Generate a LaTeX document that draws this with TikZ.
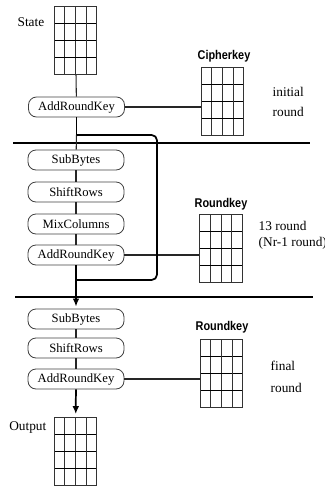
\documentclass[tikz,border=0pt]{standalone}
\usepackage{fontspec}
\setmainfont{Liberation Serif}
\newfontfamily\keyfont{Liberation Sans}
\usetikzlibrary{calc,arrows.meta}

\newcommand{\keytext}[1]{\scalebox{0.86}[1]{#1}}

\tikzset{
  stepbox/.style={draw=black!75, line width=0.6pt, rounded corners=6pt,
    minimum width=72pt, minimum height=15pt, inner sep=0pt,
    font=\fontsize{9.5}{11}\selectfont},
  keygrid/.style={draw=black!80, line width=0.6pt, minimum width=32pt,
    minimum height=51.5pt, inner sep=0pt,
    path picture={
      \foreach \k in {1,2,3}{
        \draw[black!80, line width=0.6pt]
          ($(path picture bounding box.north west)!\k/4!(path picture bounding box.north east)$) --
          ($(path picture bounding box.south west)!\k/4!(path picture bounding box.south east)$);
        \draw[black, line width=0.6pt]
          ($(path picture bounding box.north west)!\k/4!(path picture bounding box.south west)$) --
          ($(path picture bounding box.north east)!\k/4!(path picture bounding box.south east)$);
      }}},
  keylabel/.style={font=\keyfont\bfseries\fontsize{9.5}{10}\selectfont},
  sidelabel/.style={align=left, anchor=west, font=\fontsize{10}{15}\selectfont},
  link/.style={black!85, line width=0.8pt},
  flow/.style={black, line width=1.3pt},
  divider/.style={black, line width=0.8pt},
}

\begin{document}
\begin{tikzpicture}[x=0.75pt, y=-0.75pt]
    \useasboundingbox (0,0) rectangle (325,486);

    % initial round
    \node[keygrid] (state) at (75.5,40.5) {};
    \node[anchor=east] (statelbl) at (49,22) {State};
    \node[stepbox] (ark0) at (76.5,107) {AddRoundKey};
    \node[keygrid] (cipher) at (222.5,101.5) {};
    \node[keylabel] (cipherlbl) at (224,56) {\keytext{Cipherkey}};
    \node[sidelabel] (initlbl) at (268,102) {initial\\round};
    \draw[link] (state) -- (ark0);
    \draw[link] (ark0.east) -- (ark0.east -| cipher.west);

    \coordinate (d1w) at (13,143);
    \coordinate (d1e) at (310,143);
    \draw[divider] (d1w) -- (d1e);

    % main rounds
    \node[stepbox] (sb1) at (76,160) {SubBytes};
    \node[stepbox] (sr1) at (76,192) {ShiftRows};
    \node[stepbox] (mc1) at (76,224) {MixColumns};
    \node[stepbox] (ark1) at (76,255) {AddRoundKey};
    \node[keygrid] (rk1) at (221,248.5) {};
    \node[keylabel] (rk1lbl) at (221,204) {\keytext{Roundkey}};
    \node[sidelabel, font=\fontsize{10}{12}\selectfont] (midlbl) at (254,235) {13 round\\(Nr-1 round)};
    \draw[link] (sb1) -- (sr1);
    \draw[link] (sr1) -- (mc1);
    \draw[link] (mc1) -- (ark1);
    \draw[link] (ark1.east) -- (ark1.east -| rk1.west);

    \coordinate (lt) at (76.5,135);
    \coordinate (ltr) at (157,135);
    \coordinate (lbr) at (157,280);
    \coordinate (lb) at (76,280);
    \draw[flow] (ark0) -- (lt);
    \draw[link] (lt) -- (sb1);
    \draw[flow, rounded corners=4pt] (lt) -- (ltr) -- (lbr) -- (lb);

    \coordinate (d2w) at (15,297);
    \coordinate (d2e) at (313,297);
    \draw[divider] (d2w) -- (d2e);

    % final round
    \node[stepbox] (sb2) at (76,319) {SubBytes};
    \node[stepbox] (sr2) at (76,348) {ShiftRows};
    \node[stepbox] (ark2) at (76,379) {AddRoundKey};
    \node[keygrid] (rk2) at (221.5,373.5) {};
    \node[keylabel] (rk2lbl) at (222,327) {\keytext{Roundkey}};
    \node[sidelabel, font=\fontsize{10}{16.5}\selectfont] (finlbl) at (266,377) {final\\round};
    \draw[flow, -{Latex[length=6pt,width=5pt]}, shorten >=1.5pt] (ark1) -- (sb2);
    \draw[link] (sb2) -- (sr2);
    \draw[link] (sr2) -- (ark2);
    \draw[link] (ark2.east) -- (ark2.east -| rk2.west);

    \node[keygrid] (output) at (75.5,451.5) {};
    \node[anchor=east] (outlbl) at (51,427) {Output};
    \draw[flow, -{Latex[length=6pt,width=5pt]}, shorten >=2pt] (ark2) -- (output);
\end{tikzpicture}
\end{document}
